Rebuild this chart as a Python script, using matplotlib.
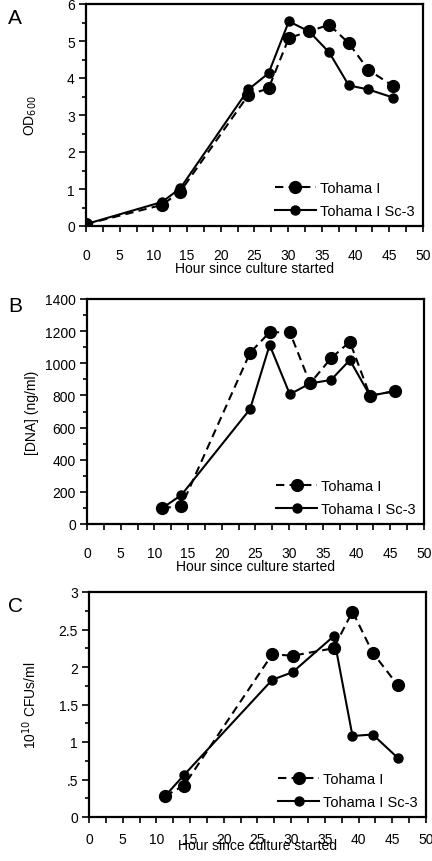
import matplotlib
matplotlib.use('Agg')
import matplotlib.pyplot as plt
import matplotlib.transforms as mtransforms
from matplotlib.ticker import MultipleLocator

plt.rcParams['font.family'] = ['Liberation Sans', 'DejaVu Sans']
plt.rcParams['font.size'] = 10

# panel A: OD600
hours_a = [0, 11.3, 14.0, 24.1, 27.1, 30.1, 33.1, 36.1, 39.0, 41.9, 45.6]
od_wt = [0.05, 0.57, 0.93, 3.54, 3.72, 5.08, 5.26, 5.44, 4.94, 4.22, 3.78]
od_sc3 = [0.05, 0.65, 1.02, 3.69, 4.13, 5.53, 5.26, 4.69, 3.80, 3.69, 3.47]

# panel B: DNA ng/ml
hours_b = [11.2, 14.0, 24.2, 27.1, 30.1, 33.1, 36.2, 39.0, 42.0, 45.7]
dna_wt = [100, 110, 1066, 1193, 1193, 875, 1031, 1134, 798, 827]
dna_sc3 = [100, 180, 715, 1114, 807, 875, 896, 1020, 798, 827]

# panel C: CFUs
hours_c = [11.3, 14.1, 27.2, 30.2, 36.3, 39.1, 42.1, 45.8]
cfu_wt = [0.28, 0.42, 2.17, 2.15, 2.25, 2.74, 2.19, 1.76]
cfu_sc3 = [0.28, 0.56, 1.83, 1.93, 2.41, 1.08, 1.10, 0.79]

H = 862.0
# letter, axes rect, data..., ylim, major, minor, custom labels, ylabel, letter y px, tick pad, xlabel pad
panels = [
    ('A', [0.199, 1 - 227 / H, 0.780, 222 / H], hours_a, od_wt, od_sc3, (0, 6), 1, 0.5,
     None, 'OD$_{600}$', 18, 12, -1),
    ('B', [0.2014, 1 - 525 / H, 0.780, 225 / H], hours_b, dna_wt, dna_sc3, (0, 1400), 200, 100,
     None, '[DNA] (ng/ml)', 307, 12, -1),
    ('C', [0.206, 1 - 818 / H, 0.780, 225 / H], hours_c, cfu_wt, cfu_sc3, (0, 3), 0.5, 0.25,
     ['0', '.5', '1', '1.5', '2', '2.5', '3'], '10$^{10}$ CFUs/ml', 607, 7, -6),
]

fig = plt.figure(figsize=(4.32, 8.62), dpi=100)

for (letter, pos, hrs, wt, sc3, ylim, major, minor, ylabels, ylab,
     ly, tpad, xlpad) in panels:
    ax = fig.add_axes(pos)
    ax.plot(hrs, wt, color='black', lw=1.5, dashes=(4, 2.5), marker='o',
            markersize=8.5, label='Tohama I')
    ax.plot(hrs, sc3, color='black', lw=1.5, marker='o', markersize=6.5,
            label='Tohama I Sc-3')
    ax.set_xlim(0, 50)
    ax.set_ylim(*ylim)
    ax.xaxis.set_major_locator(MultipleLocator(5))
    ax.xaxis.set_minor_locator(MultipleLocator(2.5))
    ax.yaxis.set_major_locator(MultipleLocator(major))
    ax.yaxis.set_minor_locator(MultipleLocator(minor))
    if ylabels:
        ax.set_yticks([i * major for i in range(len(ylabels))])
        ax.set_yticklabels(ylabels)
    ax.tick_params(axis='x', which='both', direction='out', length=4, width=1.2, pad=tpad)
    ax.tick_params(axis='y', which='major', direction='out', length=5, width=1.2, pad=3)
    ax.tick_params(axis='y', which='minor', direction='out', length=3, width=1.2)
    for s in ax.spines.values():
        s.set_linewidth(1.6)
    ax.set_xlabel('Hour since culture started', labelpad=xlpad)
    ax.set_ylabel(ylab)
    trans = mtransforms.blended_transform_factory(fig.transFigure, ax.transAxes)
    ax.yaxis.set_label_coords(39 / 432, 0.5, transform=trans)
    ax.legend(loc='lower right', frameon=False, handlelength=2.8, handletextpad=0.3,
              labelspacing=0.6, borderaxespad=0.15, fontsize=10.5)
    fig.text(0.035, 1 - ly / H, letter, fontsize=15, ha='center', va='center')

fig.savefig('out.png', dpi=100)
